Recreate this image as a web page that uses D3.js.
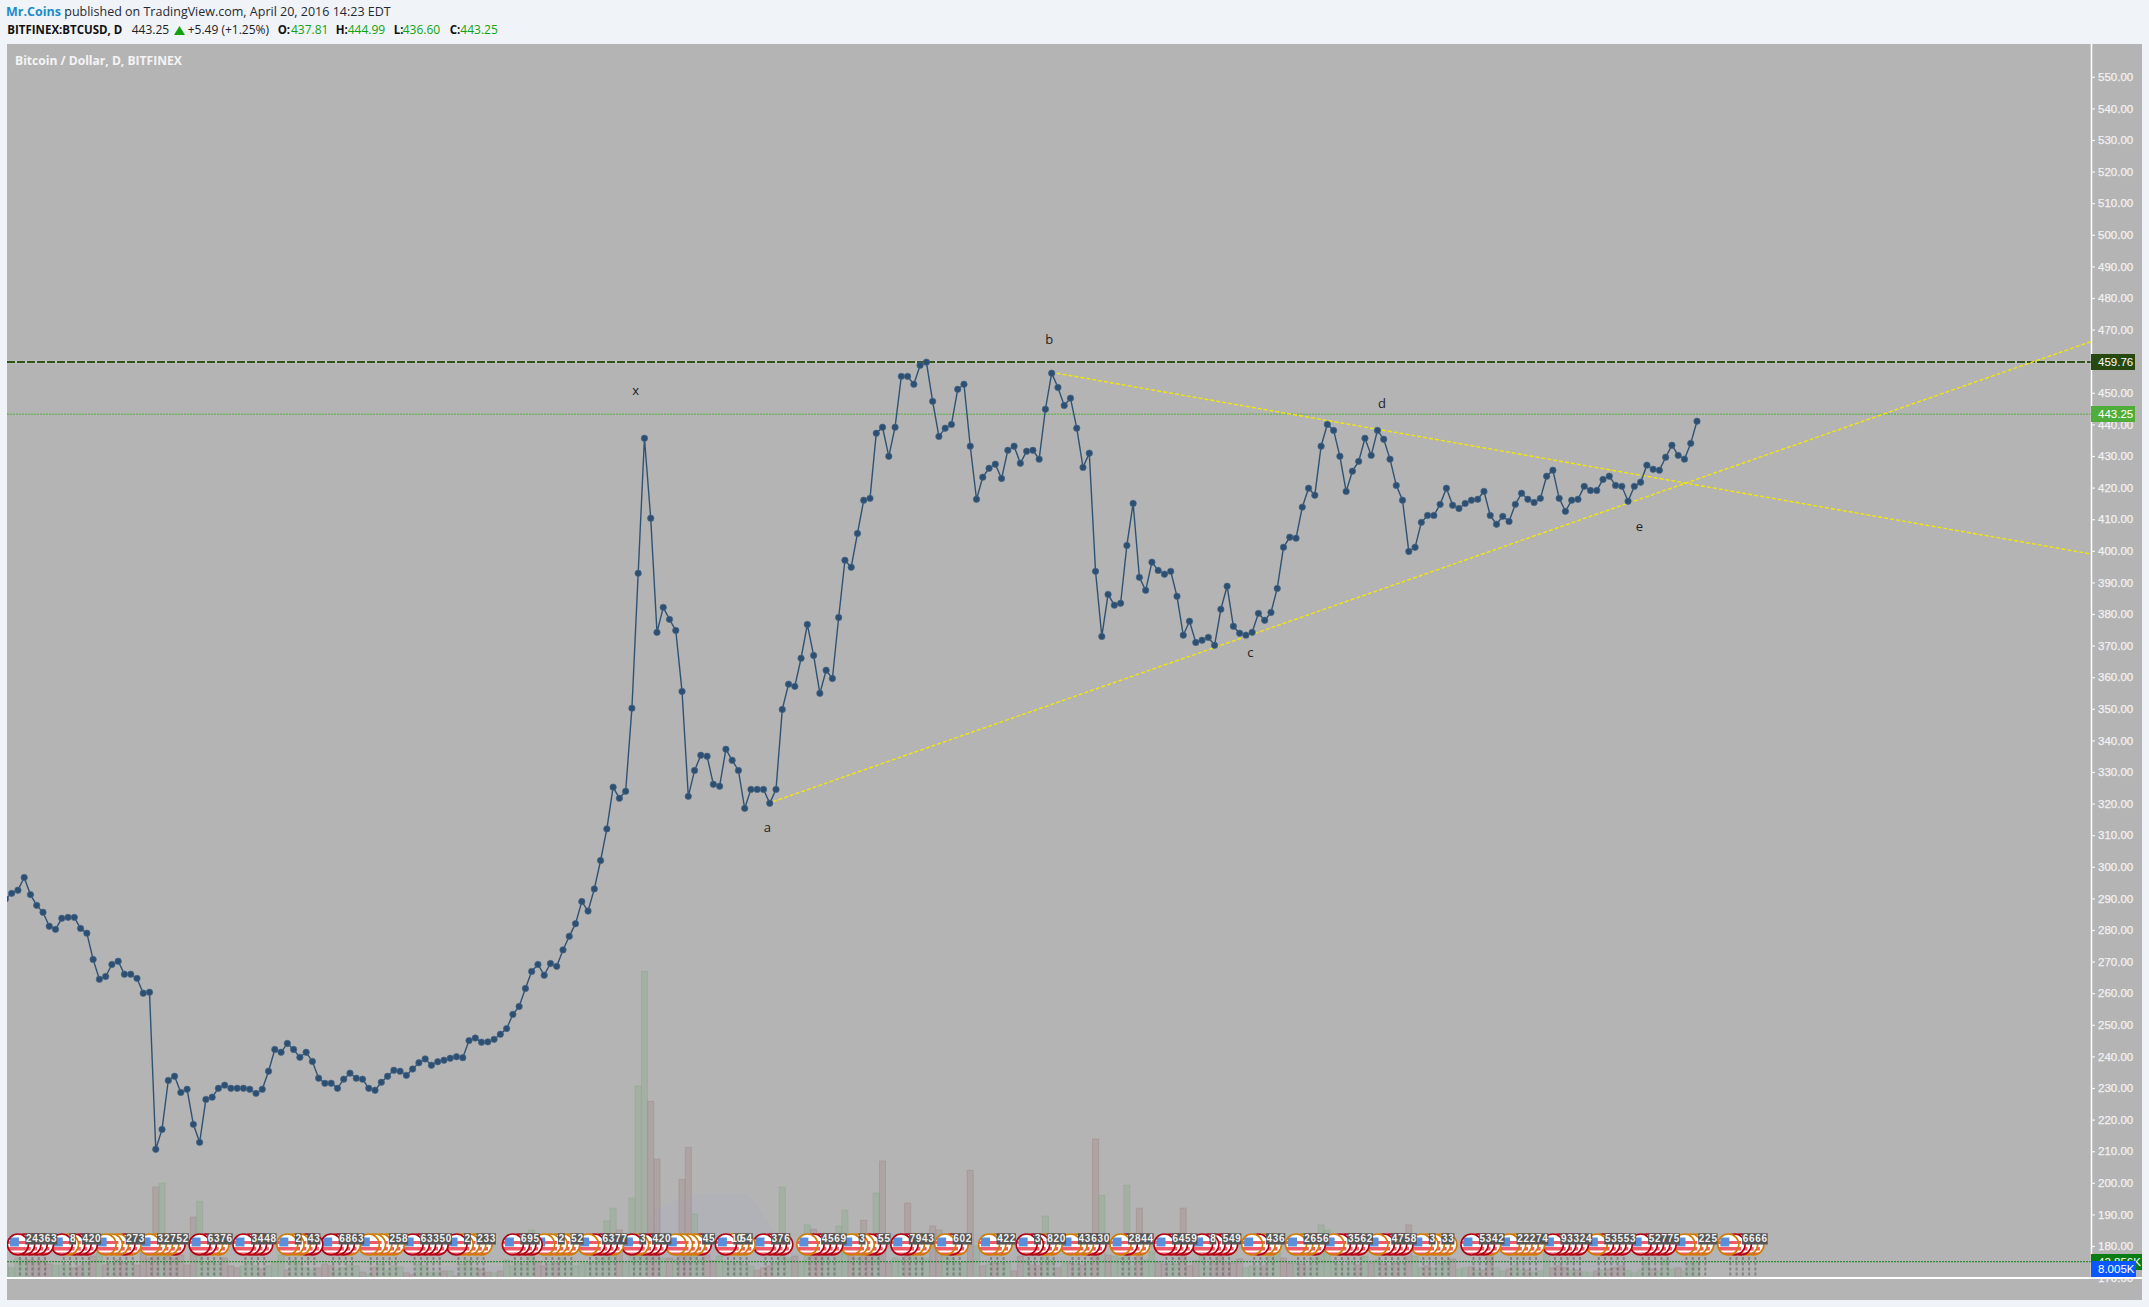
<!DOCTYPE html>
<html><head><meta charset="utf-8">
<style>html,body{margin:0;padding:0;background:#f0f3f8;overflow:hidden}svg{display:block}</style>
<script src="https://cdn.jsdelivr.net/npm/d3@7"></script>
</head><body><div id="chart"></div>
<script>
const closes=[289.8,291.6,292.6,296.6,291.2,287.8,285.6,281.2,280.2,283.7,284.0,284.0,280.5,279.0,270.7,264.4,265.3,269.1,270.1,266.0,266.0,264.7,260.0,260.3,210.6,216.9,232.4,233.7,228.6,229.6,218.5,212.8,226.4,227.1,229.9,230.9,229.9,229.9,229.9,229.6,228.3,229.6,235.3,242.2,241.3,244.1,242.2,239.7,241.3,238.4,233.1,231.5,231.5,229.9,232.8,234.7,233.1,232.8,229.9,229.3,231.8,233.7,235.6,235.3,
234.0,236.0,238.0,239.2,237.2,238.3,238.8,239.4,239.9,239.6,245.0,245.8,244.5,244.6,245.4,
247.0,248.8,253.3,255.8,261.5,266.9,269.1,265.7,269.4,268.5,273.7,278,282,289,286,293,302,312.0,325.2,321.7,323.9,350.2,392.9,435.6,410.3,374.2,382.1,378.3,374.8,355.5,322.3,330.5,335.3,335.0,326.1,325.5,337.2,333.7,330.5,318.5,324.5,324.5,324.5,320.1,324.5,349.8,357.8,357.1,366.0,
376.7,366.9,354.9,362.2,359.6,378.9,397.0,394.8,405.5,416.0,416.6,437.2,439.1,429.9,439.1,455.2,455.2,452.7,458.7,459.7,447.3,436.2,438.8,440.0,451.1,452.7,433.1,416.3,423.3,426.1,427.4,422.9,431.8,433.1,427.7,431.5,431.8,429.0,444.8,456.2,451.7,446.0,448.3,438.8,426.4,430.9,393.5,372.9,386.2,382.8,383.4,401.7,415.0,391.6,387.5,396.4,393.8,392.6,393.5,385.6,
373.3,377.7,371.0,371.7,372.6,370.1,381.5,388.8,376.1,373.9,373.3,374.2,380.2,378.0,380.5,388.1,401.1,404.3,404.0,413.8,419.8,417.6,433.1,440.0,438.1,429.9,418.8,425.2,428.3,435.6,430.2,438.1,435.3,429.0,420.7,416.0,399.8,401.1,409.0,411.2,411.2,414.7,419.8,414.4,413.4,415.0,416.0,416.3,418.8,411.2,408.4,410.9,409.3,414.7,418.2,416.3,415.3,416.6,423.6,425.5,416.6,412.5,416.0,416.3,420.4,419.1,419.1,422.6,423.6,420.7,420.4,415.7,420.4,421.7,427.1,425.8,425.5,429.6,433.4,430.2,429.0,434.0,441.0];
const volumesK=[33,26,51,46,46,44,44,36,33,33,33,26,31,38,56,64,33,38,46,38,41,33,64,51,233,243,56,51,59,33,156,197,38,44,36,51,31,26,31,38,31,23,31,41,59,20,44,38,26,20,26,36,31,20,26,33,31,15,10,28,36,18,31,28,13,8,36,31,15,15,18,18,5,36,46,26,23,15,13,18,46,31,38,36,123,41,31,36,38,51,38,31,38,38,38,51,146,179,123,38,205,492,786,453,305,51,51,46,253,335,164,46,59,44,56,38,38,41,36,31,20,26,31,38,233,51,56,38,136,125,90,72,44,133,174,64,51,148,77,218,300,38,51,46,192,59,51,51,133,123,72,51,38,41,276,82,31,36,38,38,38,18,56,44,33,31,159,46,26,38,38,36,33,38,356,212,59,56,51,238,31,179,46,67,41,36,36,36,179,31,44,59,31,44,56,38,38,49,26,31,31,31,69,69,51,38,38,36,31,51,136,123,41,36,33,38,33,56,38,46,36,31,38,38,136,56,26,31,26,38,44,49,23,26,28,20,20,59,26,18,23,31,20,20,15,18,64,26,31,26,20,20,15,13,18,20,23,26,31,20,13,20,44,23,18,46,23,26,18,38,43];
const downVolumeBars=[4,5,6,7,11,12,14,16,18,19,21,22,23,24,26,27,28,29,30,35,36,37,41,45,50,51,52,57,59,64,65,70,72,76,77,79,85,86,88,98,103,104,106,108,109,112,113,120,121,122,126,129,130,135,137,138,140,141,144,148,149,154,156,158,161,162,164,165,168,170,172,174,176,181,184,185,188,189,190,193,194,195,196,197,201,204,205,207,216,218,220,222,224,227,231,234,236,237,240,243,247,248,249,251,254,256,257,258,263,267];
const volumeAverage=[[0,26],[60,26],[95,40],[100,60],[104,175],[112,213],[118,213],[120,184],[122,133],[125,90],[135,115],[155,115],[165,55],[200,50],[240,45],[270,45]];
const priceTicks=d3.range(170,551,10);
const resistance=459.76, lastPrice=443.25;
const trendLines=[[[122.5,320.6],[332.9,466.2]],[[167.8,456.2],[332.9,399]]];
const waveLabels=["x","a","b","c","d","e"];
const waveBars=[100.6,121.6,166.6,198.7,219.7,260.8];
const wavePrices=[450.6,312.3,466.7,367.7,446.5,407.5];
const eventStarts=[2,9,16,23,31,38,45,52,58,65,72,81,86,93,100,107,115,121,128,135,143,150,157,163,170,178,185,191,199,206,212,219,226,234,240,247,254,261,268,275];
const eventColours=["rrrrr","rorrr","oooro","oooor","rroo","rrrr","ooorr","rrro","ooooo","rrrrr","roooo","rrrr","ooooo","orrro","rorrr","oooor","rooo","rrrr","orrrr","ooorr","rroo","oro","ooo","rrroo","ooorr","oroo","rrrr","rrrrr","oroo","ooor","orrrr","orrrr","ooooo","rrro","ooooo","rrrrr","orrrr","rrrrr","oooo","orroo"];
const eventLabels=["2 4 3 6 3","8 _ 4 2 0","_ _ 2 7 3","3 2 7 5 2","6 3 7 6","3 4 4 8","2 _ 4 3","6 8 6 3","_ _ 2 5 8","6 3 3 5 0","2 _ 2 3 3","6 9 5","_ 2 _ 5 2","_ 6 3 7 7","3 _ 4 2 0","_ _ _ 4 5","10 5 4","3 7 6","_ 4 5 6 9","3 _ _ 5 5","7 9 4 3","6 0 2","4 2 2","3 _ 8 2 0","4 3 6 3 0","2 8 4 4","6 4 5 9","8 _ 5 4 9","_ 4 3 6","2 6 5 6","_ 3 5 6 2","_ 4 7 5 8","3 _ 3 3","5 3 4 2","2 2 2 7 4","9 3 3 2 4","5 3 5 5 3","5 2 7 7 5","_ 2 2 5","_ 6 6 6 6"];

const W=2149,H=1307,L=7,R=2091,T=44,B=1278,PR=2142,PB=1300;
const svg=d3.select("#chart").append("svg").attr("width",W).attr("height",H).style("font-family","'Open Sans',sans-serif");
const defs=svg.append("defs");
defs.append("clipPath").attr("id","plot").append("rect").attr("x",L).attr("y",T).attr("width",R-L).attr("height",B-T);
defs.append("clipPath").attr("id","disc").append("circle").attr("r",10.3);

const x=d3.scaleLinear().domain([0,270]).range([5.4,1697]);
const y=d3.scaleLinear().domain([180,550]).range([1246,76.8]);
const v=d3.scaleLinear().domain([0,800]).range([B,B-312]);

svg.append("rect").attr("x",L).attr("y",T).attr("width",PR-L).attr("height",PB-T).attr("fill","#b4b4b4");
const plot=svg.append("g").attr("clip-path","url(#plot)");

plot.append("path").datum(volumeAverage).attr("fill","#a4aabf").attr("opacity",.25)
 .attr("d",d3.area().x(d=>x(d[0])).y0(B).y1(d=>v(d[1])).curve(d3.curveMonotoneX));
const downSet=new Set(downVolumeBars);
plot.selectAll("rect.vol").data(volumesK).join("rect").attr("class","vol")
 .attr("x",(d,i)=>x(i)-3).attr("width",6).attr("y",d=>v(d)).attr("height",d=>B-v(d))
 .attr("fill",(d,i)=>downSet.has(i)?"#a59090":"#90ac90").attr("fill-opacity",.42)
 .attr("stroke",(d,i)=>downSet.has(i)?"#a58f8f":"#8fab8f").attr("stroke-opacity",.6).attr("stroke-width",1);

plot.append("line").attr("x1",L).attr("x2",R).attr("y1",y(resistance)).attr("y2",y(resistance)).attr("stroke","#d6d6d6").attr("stroke-width",3).attr("stroke-opacity",.45);
plot.append("line").attr("x1",L).attr("x2",R).attr("y1",y(resistance)).attr("y2",y(resistance)).attr("stroke","#31541a").attr("stroke-width",2).attr("stroke-dasharray","8 2");
plot.append("line").attr("x1",L).attr("x2",R).attr("y1",y(lastPrice)).attr("y2",y(lastPrice)).attr("stroke","#4fae3a").attr("stroke-width",1).attr("stroke-dasharray","2 1");
plot.append("line").attr("x1",L).attr("x2",R).attr("y1",v(volumesK[270])+.5).attr("y2",v(volumesK[270])+.5).attr("stroke","#0a7d12").attr("stroke-width",1).attr("stroke-dasharray","2 1");

plot.selectAll("line.trend").data(trendLines).join("line").attr("class","trend")
 .attr("x1",d=>x(d[0][0])).attr("y1",d=>y(d[0][1])).attr("x2",d=>x(d[1][0])).attr("y2",d=>y(d[1][1]))
 .attr("stroke","#f2e60a").attr("stroke-width",1.4).attr("stroke-dasharray","4 2");

plot.append("path").datum(closes).attr("fill","none").attr("stroke","#2f5273").attr("stroke-width",1.4)
 .attr("d",d3.line().x((d,i)=>x(i)).y(d=>y(d)));
plot.selectAll("circle.pt").data(closes).join("circle").attr("class","pt")
 .attr("cx",(d,i)=>x(i)).attr("cy",d=>y(d)).attr("r",3.2).attr("fill","#2c4f72").attr("stroke","#476787").attr("stroke-width",.7);

plot.selectAll("text.wave").data(waveLabels).join("text").attr("class","wave")
 .attr("x",(d,i)=>x(waveBars[i])).attr("y",(d,i)=>y(wavePrices[i])+4).attr("text-anchor","middle")
 .attr("font-size",13).attr("fill","#222").text(d=>d);

const events=[];
eventStarts.forEach((s,k)=>{
  const cols=eventColours[k], labs=eventLabels[k].split(" ");
  for(let j=0;j<Math.max(cols.length,labs.length);j++) events.push({bar:s+j,front:j===0,col:cols[j]||cols[cols.length-1],lab:labs[j]||"_"});
});
const evY=1244.5;
plot.selectAll("line.evdash").data(events).join("line").attr("class","evdash")
 .attr("x1",d=>x(d.bar)+2).attr("x2",d=>x(d.bar)+2).attr("y1",1257).attr("y2",B)
 .attr("stroke","#5d5d5d").attr("stroke-opacity",.55).attr("stroke-width",2).attr("stroke-dasharray","3 2.2");
const flags=plot.selectAll("g.flag").data(events.slice().reverse()).join("g").attr("class","flag")
 .attr("transform",d=>`translate(${x(d.bar)},${evY})`);
flags.append("circle").attr("r",10.3).attr("fill","#fff");
const stripes=flags.append("g").attr("clip-path","url(#disc)");
const stripeW=d=>d.front?22:17.5;
stripes.append("rect").attr("x",-11).attr("y",-3.5).attr("width",stripeW).attr("height",3).attr("fill","#ee5a68");
stripes.append("rect").attr("x",-11).attr("y",2.5).attr("width",stripeW).attr("height",3.5).attr("fill","#ee5a68");
stripes.append("rect").attr("x",-11).attr("y",8).attr("width",stripeW).attr("height",3).attr("fill","#ee5a68");
stripes.append("rect").attr("x",-8).attr("y",-7).attr("width",9).attr("height",9).attr("fill","#5a8fdc");
flags.append("circle").attr("r",10.5).attr("fill","none").attr("stroke-width",1.6)
 .attr("stroke",d=>d.col==="r"?"#b10010":"#d17a00");
const shown=events.filter(d=>d.lab!=="_");
plot.selectAll("rect.evbox").data(shown).join("rect").attr("class","evbox")
 .attr("x",d=>x(d.bar)+7.5).attr("y",1233.3).attr("width",6.8).attr("height",11.2).attr("fill","#555");
plot.selectAll("text.evtxt").data(shown).join("text").attr("class","evtxt")
 .attr("x",d=>x(d.bar)+10.9).attr("y",1242).attr("text-anchor","middle").attr("font-family","'Liberation Sans'")
 .attr("font-weight","bold").attr("font-size",10).attr("fill","#f2f2f2").text(d=>d.lab);

const axis=svg.append("g").attr("transform",`translate(${R},0)`).call(
  d3.axisRight(y).tickValues(priceTicks).tickFormat(d3.format(".2f")).tickSize(4).tickPadding(3));
axis.select(".domain").attr("stroke","#fff").attr("stroke-width",1.5).attr("d",`M0.5,${T}V${B}`);
axis.selectAll("line").attr("stroke","#f4f4f4").attr("stroke-width",1.2);
axis.selectAll("text").attr("font-family","'Liberation Sans'").attr("font-size",11.5).attr("fill","#f2f2f2").attr("stroke","#f2f2f2").attr("stroke-width",.25);
svg.append("line").attr("x1",L).attr("x2",PR).attr("y1",B).attr("y2",B).attr("stroke","#fff").attr("stroke-width",2);

const tags=[
 {y0:354,w:44,h:16,fill:"#27490f",text:d3.format(".2f")(resistance)},
 {y0:406,w:44,h:16,fill:"#4fae3a",text:d3.format(".2f")(lastPrice)},
 {y0:1254,w:51,h:16,fill:"#0a7d12",text:"42.856K"},
 {y0:1261,w:45,h:16,fill:"#0b57ff",text:"8.005K"}];
tags.forEach(t=>{
 svg.append("rect").attr("x",R).attr("y",t.y0).attr("width",t.w).attr("height",t.h).attr("fill",t.fill);
 svg.append("text").attr("x",R+7).attr("y",t.y0+12).attr("font-family","'Liberation Sans'").attr("font-size",11.5).attr("fill","#fff").text(t.text);
});

svg.append("text").attr("x",6).attr("y",16).attr("font-size",12.5).attr("fill","#1f2a33")
  .call(s=>{s.append("tspan").attr("font-weight",700).attr("fill","#1d8bc9").text("Mr.Coins");
            s.append("tspan").text(" published on TradingView.com, April 20, 2016 14:23 EDT");});
const hdr=[[7.3,"BITFINEX:BTCUSD, D",700,"#111",11.5],[131.7,"443.25",400,"#222",12],[187.7,"+5.49 (+1.25%)",400,"#222",12],
 [277.7,"O:",700,"#111",11.5],[291,"437.81",400,"#0fa30f",12],[335.7,"H:",700,"#111",11.5],[347.7,"444.99",400,"#0fa30f",12],
 [393.7,"L:",700,"#111",11.5],[402.7,"436.60",400,"#0fa30f",12],[449.7,"C:",700,"#111",11.5],[460.3,"443.25",400,"#0fa30f",12]];
svg.selectAll("text.hdr").data(hdr).join("text").attr("class","hdr").attr("x",d=>d[0]).attr("y",33.5)
 .attr("font-size",d=>d[4]).attr("font-weight",d=>d[2]).attr("fill",d=>d[3]).text(d=>d[1]);
svg.append("path").attr("d","M174,35L179.5,26L185,35Z").attr("fill","#0fa30f");
svg.append("text").attr("x",15).attr("y",65).attr("font-size",12.1).attr("font-weight",700).attr("fill","#f4f4f4").text("Bitcoin / Dollar, D, BITFINEX");
</script></body></html>
